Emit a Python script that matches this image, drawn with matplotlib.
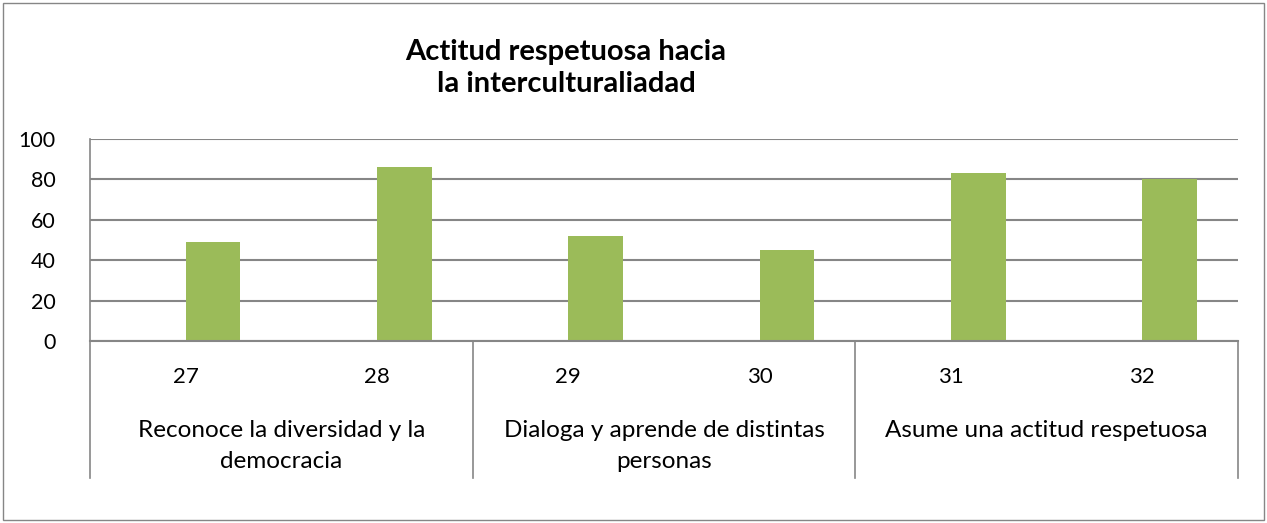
import matplotlib.pyplot as plt
from matplotlib.patches import Rectangle
import matplotlib.transforms as mtransforms

# chart data
items = ["27", "28", "29", "30", "31", "32"]
values = [49, 86, 52, 45, 83, 80]
groups = ["Reconoce la diversidad y la\ndemocracia",
          "Dialoga y aprende de distintas\npersonas",
          "Asume una actitud respetuosa"]
title = "Actitud respetuosa hacia\nla interculturaliadad"

plt.rcParams['font.family'] = ['Lato', 'DejaVu Sans']

W, H = 1267, 523
fig = plt.figure(figsize=(W / 100, H / 100), dpi=100)
ax = fig.add_axes([90 / W, 182 / H, 1148 / W, 202 / H])

grid_col = "#868686"
bar_col = "#9BBB59"

x = [i + 0.5 for i in range(len(items))]
ax.bar(x, values, width=0.285, align='edge', color=bar_col, zorder=3)

ax.set_xlim(0, len(items))
ax.set_ylim(0, 100)
ax.set_yticks(range(0, 101, 20))
ax.yaxis.grid(True, color=grid_col, linewidth=1.5, zorder=0)
ax.tick_params(axis='y', length=0, pad=25, labelsize=15.5)
ax.set_xticks([])
for s in ['top', 'right', 'bottom']:
    ax.spines[s].set_visible(False)
ax.spines['left'].set_color(grid_col)
ax.spines['left'].set_linewidth(1.2)

trans = mtransforms.blended_transform_factory(ax.transData, ax.transAxes)
# item labels
for xi, lab in zip(x, items):
    ax.text(xi, -0.18, lab, transform=trans, ha='center', va='center', fontsize=16)
# group labels and separators
per = len(items) // len(groups)
for g, lab in enumerate(groups):
    ax.text(g * per + per / 2, -0.39, lab, transform=trans, ha='center', va='top',
            fontsize=17.5, linespacing=1.6)
for b in range(len(groups) + 1):
    ax.plot([b * per, b * per], [0, -0.678], transform=trans, color=grid_col,
            linewidth=1.2, clip_on=False, zorder=2)
ax.plot([0, len(items)], [0, 0], transform=trans, color=grid_col, linewidth=1.5,
        clip_on=False, zorder=4)

fig.text(566 / W, 1 - 68 / H, title, ha='center', va='center', fontsize=21,
         fontweight='bold', linespacing=1.25)

fig.patches.append(Rectangle((3 / W, 3 / H), 1 - 6 / W, 1 - 6 / H, transform=fig.transFigure,
                             fill=False, edgecolor=grid_col, linewidth=1))

fig.savefig("out.png", dpi=100)
